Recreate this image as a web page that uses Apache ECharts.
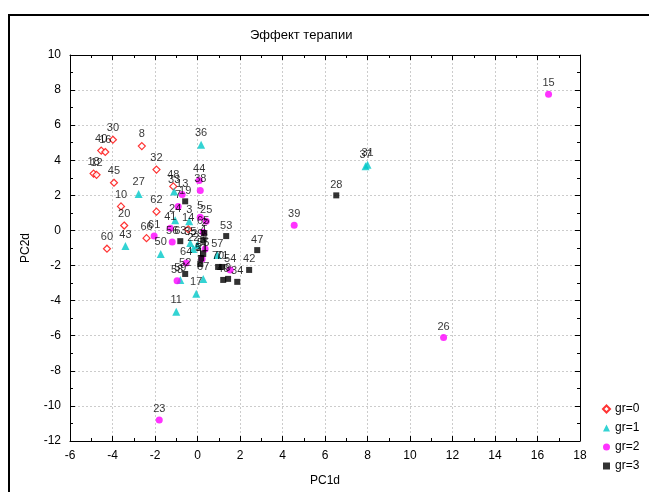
<!DOCTYPE html>
<html>
<head>
<meta charset="utf-8">
<script src="https://cdn.jsdelivr.net/npm/echarts@6/dist/echarts.min.js"></script>
<style>
  html, body { margin: 0; padding: 0; background: #fff; }
  #main { width: 649px; height: 492px; }
</style>
</head>
<body>
<div id="main"></div>
<script>
// точки: [PC1d, PC2d, номер]
var gr0 = [
  [-3.98, 5.17, '30'], [-4.53, 4.55, '40'], [-4.34, 4.47, '16'], [-2.62, 4.81, '8'],
  [-4.89, 3.24, '18'], [-4.75, 3.17, '12'], [-3.93, 2.72, '45'], [-1.93, 3.47, '32'],
  [-3.60, 1.37, '10'], [-1.93, 1.07, '62'], [-3.45, 0.28, '20'], [-4.26, -1.04, '60'],
  [-2.40, -0.44, '66'], [-1.14, 2.51, '48'], [-0.44, 0.07, '14']
];
var gr1 = [
  [0.17, 4.89, '36'], [7.91, 3.66, '37'], [8.00, 3.75, '31'], [-2.77, 2.08, '27'],
  [-3.39, -0.89, '43'], [-1.73, -1.34, '50'], [-1.10, 2.22, '33'], [-1.05, 0.58, '24'],
  [-0.39, 0.53, '3'], [-0.34, -0.72, '35'], [-0.01, -0.83, '29'], [-0.20, -1.06, '22'],
  [0.93, -1.40, '57'], [-0.81, -2.82, '59'], [0.27, -2.76, '67'], [-0.06, -3.61, '17'],
  [-1.00, -4.63, '11']
];
var gr2 = [
  [16.52, 7.77, '15'], [11.58, -6.10, '26'], [-1.80, -10.80, '23'], [4.55, 0.30, '39'],
  [0.08, 2.85, '44'], [0.13, 2.28, '38'], [-0.72, 2.05, '13'], [-0.91, 1.37, '7'],
  [-1.28, 0.13, '41'], [0.13, 0.75, '5'], [0.41, 0.53, '25'], [0.27, -0.10, '65'],
  [-2.04, -0.32, '61'], [-1.19, -0.66, '56'], [0.36, -1.06, '6'], [0.22, -1.63, '21'],
  [-0.53, -1.85, '64'], [-0.96, -2.87, '58'], [1.54, -2.25, '54']
];
var gr3 = [
  [-0.58, 1.66, '19'], [-0.81, -0.61, '63'], [1.35, -0.32, '53'], [2.81, -1.12, '47'],
  [2.43, -2.25, '42'], [6.53, 2.00, '28'], [0.32, -0.15, '2'], [0.27, -0.55, '4'],
  [0.27, -1.34, '55'], [0.17, -1.57, '51'], [-0.58, -2.48, '52'], [0.13, -1.91, '1'],
  [0.97, -2.08, '70'], [1.16, -2.08, '71'], [1.21, -2.82, '49'], [1.44, -2.76, '9'],
  [1.87, -2.93, '34']
];
var groupNames = ['gr=0', 'gr=1', 'gr=2', 'gr=3'];
var xTicks = { min: -6, max: 18, step: 2 };
var yTicks = { min: -12, max: 10, step: 2 };

var font = 'Arial, "Liberation Sans", sans-serif';
var chart = echarts.init(document.getElementById('main'));

function makeSeries(name, pts, symbol, size, style) {
  return {
    name: name,
    type: 'scatter',
    symbol: symbol,
    symbolSize: size,
    itemStyle: style,
    data: pts.map(function (p) { return { value: [p[0], p[1]], name: p[2] }; }),
    label: {
      show: true,
      position: 'top',
      distance: 2,
      formatter: '{b}',
      color: '#000',
      fontSize: 11,
      fontFamily: font
    },
    labelLayout: { hideOverlap: false },
    emphasis: { disabled: true },
    z: 3
  };
}

function axisBase(pos, range, showLabel) {
  return {
    type: 'value',
    position: pos,
    min: range.min,
    max: range.max,
    interval: range.step,
    axisLine: { show: true, onZero: false, lineStyle: { color: '#000', width: 1 } },
    axisTick: { show: true, inside: true, length: 5, lineStyle: { color: '#000' } },
    minorTick: { show: true, splitNumber: 2, length: 3, lineStyle: { color: '#000' } },
    axisLabel: { show: showLabel, color: '#000', fontSize: 12, fontFamily: font, margin: 9 },
    splitLine: { show: showLabel, lineStyle: { color: '#cccccc', type: [2, 2], width: 1 } }
  };
}

var xBottom = axisBase('bottom', xTicks, true);
xBottom.name = 'PC1d';
xBottom.nameLocation = 'middle';
xBottom.nameGap = 34;
xBottom.nameTextStyle = { color: '#000', fontSize: 12, fontFamily: font };
var yLeft = axisBase('left', yTicks, true);
yLeft.name = 'PC2d';
yLeft.nameLocation = 'middle';
yLeft.nameGap = 38;
yLeft.nameTextStyle = { color: '#000', fontSize: 12, fontFamily: font };

chart.setOption({
  backgroundColor: '#fff',
  animation: false,
  title: {
    text: 'Эффект терапии',
    left: 245,
    top: 24,
    textStyle: { color: '#000', fontSize: 13, fontWeight: 'normal', fontFamily: font }
  },
  graphic: [{
    type: 'rect',
    shape: { x: 9, y: 15, width: 700, height: 600 },
    style: { fill: 'none', stroke: '#000', lineWidth: 2 },
    silent: true
  }],
  legend: {
    type: 'plain',
    orient: 'vertical',
    left: 602,
    top: 403,
    padding: 0,
    itemWidth: 7,
    itemHeight: 7,
    itemGap: 7,
    data: groupNames,
    textStyle: { color: '#000', fontSize: 12, fontFamily: font }
  },
  grid: { left: 70, right: 69, top: 55, bottom: 49, containLabel: false },
  xAxis: [xBottom, axisBase('top', xTicks, false)],
  yAxis: [yLeft, axisBase('right', yTicks, false)],
  series: [
    makeSeries(groupNames[0], gr0, 'diamond', 7, { color: '#fff', borderColor: '#ff0000', borderWidth: 1.2 }),
    makeSeries(groupNames[1], gr1, 'triangle', 8, { color: '#00c8c8' }),
    makeSeries(groupNames[2], gr2, 'circle', 7, { color: '#ff00ff' }),
    makeSeries(groupNames[3], gr3, 'rect', 6, { color: '#000' })
  ]
});
</script>
</body>
</html>
